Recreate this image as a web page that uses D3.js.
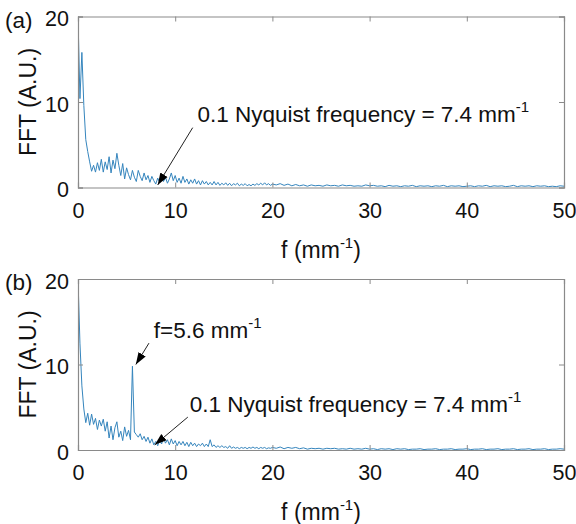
<!DOCTYPE html>
<html>
<head>
<meta charset="utf-8">
<script src="https://cdn.jsdelivr.net/npm/d3@7"></script>
<style>
  body { margin: 0; background: #fff; }
  svg { display: block; }
  text { font-family: "Liberation Sans", Arial, sans-serif; fill: #111; }
</style>
</head>
<body>
<div id="chart"></div>
<script>
// tick values
const xTicks = [0, 10, 20, 30, 40, 50];
const yTicks = [0, 10, 20];

// spectra are sampled every 0.2 mm^-1 up to 20, then every 0.4 up to 50
const lowStep = 0.2, highStart = 20.4, highStep = 0.4;

// (a) FFT magnitude
const fftA_low = [
  20, 10.4, 15.8, 9.6, 5.6, 4.2, 3.0, 1.9, 2.6, 1.8,
  2.9, 2.0, 3.3, 1.8, 3.0, 2.1, 3.6, 1.7, 3.2, 2.2,
  4.0, 2.6, 1.4, 2.8, 1.0, 2.3, 1.5, 0.9, 2.0, 1.2,
  0.7, 2.0, 1.3, 0.8, 1.7, 0.9, 1.4, 0.6, 1.3, 0.8,
  0.4, 1.1, 0.6, 1.3, 0.7, 1.2, 0.5, 1.0, 1.7, 0.8,
  1.4, 0.6, 1.1, 0.5, 1.3, 0.6, 1.0, 0.4, 0.9, 0.5,
  1.0, 0.4, 0.8, 0.3, 0.8, 0.4, 0.7, 0.3, 0.6, 0.3,
  0.7, 0.3, 0.6, 0.25, 0.5, 0.3, 0.55, 0.25, 0.5, 0.2,
  0.45, 0.3, 0.5, 0.2, 0.4, 0.25, 0.45, 0.2, 0.35, 0.2,
  0.4, 0.25, 0.45, 0.3, 0.5, 0.3, 0.55, 0.3, 0.45, 0.25,
  0.4
];
const fftA_high = [
  0.3, 0.45, 0.25, 0.4, 0.2, 0.35, 0.2, 0.3, 0.15, 0.3,
  0.2, 0.25, 0.15, 0.3, 0.2, 0.25, 0.15, 0.3, 0.2, 0.25,
  0.15, 0.2, 0.15, 0.3, 0.2, 0.25, 0.15, 0.2, 0.1, 0.25,
  0.15, 0.2, 0.1, 0.2, 0.15, 0.25, 0.1, 0.2, 0.15, 0.2,
  0.1, 0.2, 0.15, 0.25, 0.1, 0.2, 0.15, 0.2, 0.1, 0.15,
  0.2, 0.1, 0.2, 0.15, 0.25, 0.1, 0.2, 0.15, 0.2, 0.1,
  0.15, 0.25, 0.1, 0.2, 0.15, 0.2, 0.1, 0.2, 0.15, 0.2,
  0.1, 0.15, 0.1, 0.2, 0.15
];

// (b) FFT magnitude with the 5.6 mm^-1 peak
const fftB_low = [
  20, 12.5, 7.5, 4.8, 3.2, 4.3, 2.9, 4.2, 3.0, 3.7,
  2.4, 3.5, 2.8, 3.6, 2.2, 3.3, 1.4, 2.8, 1.2, 2.6,
  3.3, 1.5, 2.2, 1.1, 2.7, 1.6, 2.3, 1.2, 9.8, 2.1,
  1.8, 1.5, 1.9, 1.2, 1.6, 1.0, 1.5, 0.8, 1.3, 0.6,
  1.0, 0.5, 1.2, 0.7, 1.4, 0.8, 1.2, 0.6, 1.3, 0.7,
  1.1, 0.5, 1.0, 0.6, 1.0, 0.5, 0.9, 0.4, 0.9, 0.5,
  0.8, 0.4, 0.7, 0.5, 0.8, 0.4, 0.7, 0.4, 1.2, 0.4,
  0.6, 0.3, 0.5, 0.3, 0.5, 0.3, 0.4, 0.2, 0.5, 0.2,
  0.35, 0.2, 0.3, 0.15, 0.3, 0.2, 0.3, 0.15, 0.3, 0.2,
  0.35, 0.2, 0.3, 0.15, 0.3, 0.2, 0.3, 0.15, 0.25, 0.2,
  0.3
];
const fftB_high = [
  0.2, 0.35, 0.15, 0.3, 0.2, 0.3, 0.15, 0.25, 0.1, 0.2,
  0.15, 0.2, 0.1, 0.2, 0.15, 0.2, 0.1, 0.15, 0.1, 0.2,
  0.1, 0.15, 0.1, 0.2, 0.1, 0.15, 0.05, 0.15, 0.1, 0.15,
  0.05, 0.15, 0.1, 0.15, 0.05, 0.1, 0.1, 0.15, 0.05, 0.1,
  0.1, 0.15, 0.05, 0.1, 0.1, 0.15, 0.05, 0.1, 0.1, 0.15,
  0.05, 0.1, 0.1, 0.15, 0.05, 0.1, 0.1, 0.15, 0.05, 0.1,
  0.1, 0.15, 0.05, 0.1, 0.1, 0.15, 0.05, 0.1, 0.1, 0.15,
  0.05, 0.1, 0.1, 0.15, 0.1
];

// annotations in data units: text anchor + arrow tail/tip
const annotA = [
  { text: "0.1 Nyquist frequency = 7.4 mm", tx: 12.3, ty: 7.7, x1: 11.8, y1: 7.0, x2: 8.2, y2: 0.3 }
];
const annotB = [
  { text: "f=5.6 mm", tx: 7.8, ty: 13.1, x1: 7.3, y1: 12.5, x2: 5.95, y2: 10.0 },
  { text: "0.1 Nyquist frequency = 7.4 mm", tx: 11.5, ty: 4.45, x1: 11.3, y1: 3.85, x2: 7.9, y2: 0.6 }
];

function toPoints(low, high) {
  const pts = low.map((v, i) => ({ f: i * lowStep, v }));
  high.forEach((v, i) => pts.push({ f: highStart + i * highStep, v }));
  return pts;
}

const W = 576, H = 524;
const margin = { left: 78, right: 12 };
const plotW = W - margin.left - margin.right;
const plotH = 171;

const svg = d3.select("#chart").append("svg")
  .attr("width", W)
  .attr("height", H);

svg.append("defs").append("marker")
  .attr("id", "head")
  .attr("viewBox", "0 0 10 10")
  .attr("refX", 10).attr("refY", 5)
  .attr("markerWidth", 12).attr("markerHeight", 12)
  .attr("markerUnits", "userSpaceOnUse")
  .attr("orient", "auto")
  .append("path")
  .attr("d", "M0,1.5 L10,5 L0,8.5 Z")
  .attr("fill", "#000");

const x = d3.scaleLinear().domain([0, 50]).range([0, plotW]);
const y = d3.scaleLinear().domain([0, 20]).range([plotH, 0]);

function drawPanel(top, tag, data, annots) {
  const g = svg.append("g").attr("transform", `translate(${margin.left},${top})`);
  const id = "clip" + tag.replace(/\W/g, "");

  g.append("clipPath").attr("id", id)
    .append("rect").attr("width", plotW).attr("height", plotH);

  // series
  g.append("path")
    .datum(data)
    .attr("clip-path", `url(#${id})`)
    .attr("fill", "none")
    .attr("stroke", "#3585bd")
    .attr("stroke-width", 1)
    .attr("d", d3.line().x(d => x(d.f)).y(d => y(d.v)));

  // axes, MATLAB style: inward ticks, full box
  const axColor = "#8a8a8a";
  const bottom = g.append("g").attr("transform", `translate(0,${plotH})`)
    .call(d3.axisBottom(x).tickValues(xTicks).tickSize(-5).tickPadding(12).tickFormat(d3.format("d")));
  const left = g.append("g")
    .call(d3.axisLeft(y).tickValues(yTicks).tickSize(-5).tickPadding(9).tickFormat(d3.format("d")));
  const topAx = g.append("g")
    .call(d3.axisTop(x).tickValues(xTicks).tickSize(-5).tickFormat(""));
  const right = g.append("g").attr("transform", `translate(${plotW},0)`)
    .call(d3.axisRight(y).tickValues(yTicks).tickSize(-5).tickFormat(""));

  [bottom, left, topAx, right].forEach(a => {
    a.selectAll(".domain").attr("stroke", axColor).attr("stroke-width", 1.2);
    a.selectAll(".tick line").attr("stroke", axColor);
    a.selectAll(".tick text").attr("font-size", 21.5).attr("fill", "#111")
      .style("font-family", '"Liberation Sans", Arial, sans-serif');
  });
  bottom.selectAll(".tick text").attr("dy", "0.85em");
  left.selectAll(".tick text").attr("dy", "0.42em");

  // axis titles
  const xl = g.append("text")
    .attr("x", plotW / 2).attr("y", plotH + 70)
    .attr("text-anchor", "middle").attr("font-size", 23);
  xl.append("tspan").text("f (mm");
  xl.append("tspan").attr("font-size", 15).attr("dy", -10).text("-1");
  xl.append("tspan").attr("dy", 10).text(")");

  g.append("text")
    .attr("transform", `translate(-42,${plotH / 2}) rotate(-90)`)
    .attr("text-anchor", "middle").attr("font-size", 23)
    .text("FFT (A.U.)");

  svg.append("text")
    .attr("x", 5).attr("y", top + 11)
    .attr("font-size", 22.5)
    .text(tag);

  // annotations
  annots.forEach(a => {
    g.append("line")
      .attr("x1", x(a.x1)).attr("y1", y(a.y1))
      .attr("x2", x(a.x2)).attr("y2", y(a.y2))
      .attr("stroke", "#222").attr("stroke-width", 1)
      .attr("marker-end", "url(#head)");
    const t = g.append("text")
      .attr("x", x(a.tx)).attr("y", y(a.ty))
      .attr("font-size", 22.5);
    t.append("tspan").text(a.text);
    t.append("tspan").attr("font-size", 15).attr("dy", -10).text("-1");
  });
}

drawPanel(16.5, "(a)", toPoints(fftA_low, fftA_high), annotA);
drawPanel(279, "(b)", toPoints(fftB_low, fftB_high), annotB);
</script>
</body>
</html>
